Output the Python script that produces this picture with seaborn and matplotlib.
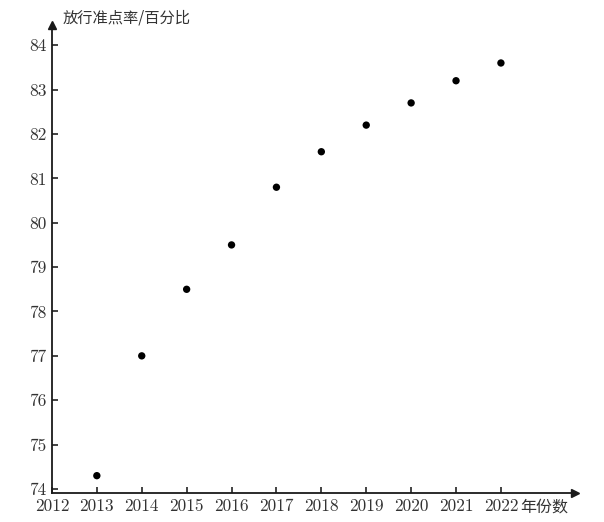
import matplotlib.pyplot as plt
import numpy as np
import pandas as pd
import seaborn as sns

# data
years = [2013, 2014, 2015, 2016, 2017, 2018, 2019, 2020, 2021, 2022]
rates = [74.3, 77.0, 78.5, 79.5, 80.8, 81.6, 82.2, 82.7, 83.2, 83.6]
xticks = list(range(2012, 2023))
yticks = list(range(74, 85))

sns.set_style("white")
plt.rcParams["font.family"] = ["cmr10", "Noto Sans CJK SC", "DejaVu Sans"]
plt.rcParams["axes.formatter.use_mathtext"] = True
plt.rcParams["axes.unicode_minus"] = False

df = pd.DataFrame({"year": years, "rate": rates})

fig = plt.figure(figsize=(6.04, 5.22), dpi=100)
ax = fig.add_axes([0.086, 0.0556, 0.866, 0.896])

sns.scatterplot(data=df, x="year", y="rate", ax=ax, color="black",
                s=28, edgecolor="none", legend=False)

ax.set_xlim(2012, 2023.65)
ax.set_ylim(73.91, 84.45)
ax.set_xticks(xticks)
ax.set_yticks(yticks)
ax.set_xticklabels([str(v) for v in xticks])
ax.set_yticklabels([str(v) for v in yticks])
ax.tick_params(axis="both", direction="in", length=4, width=1.2,
               colors="#222222", labelsize=12.5, labelcolor="#333333")
ax.tick_params(axis="x", bottom=True, pad=4)
ax.tick_params(axis="y", left=True, pad=4)

for side in ["top", "right"]:
    ax.spines[side].set_visible(False)
for side in ["left", "bottom"]:
    ax.spines[side].set_linewidth(1.3)
    ax.spines[side].set_color("#1a1a1a")

# arrow heads on the axes
ax.plot(1, 0, ">", color="#1a1a1a", markersize=6, transform=ax.transAxes, clip_on=False)
ax.plot(0, 1, "^", color="#1a1a1a", markersize=6, transform=ax.transAxes, clip_on=False)

ax.set_xlabel("")
ax.set_ylabel("")
fig.text(0.862, 0.0287, "年份数", fontsize=11.5, color="#333333",
         family=["Noto Sans CJK SC"], ha="left", va="center")
fig.text(0.103, 0.966, "放行准点率/百分比", fontsize=11, color="#333333",
         family=["Noto Sans CJK SC"], ha="left", va="center")

fig.savefig("out.png", dpi=100)
